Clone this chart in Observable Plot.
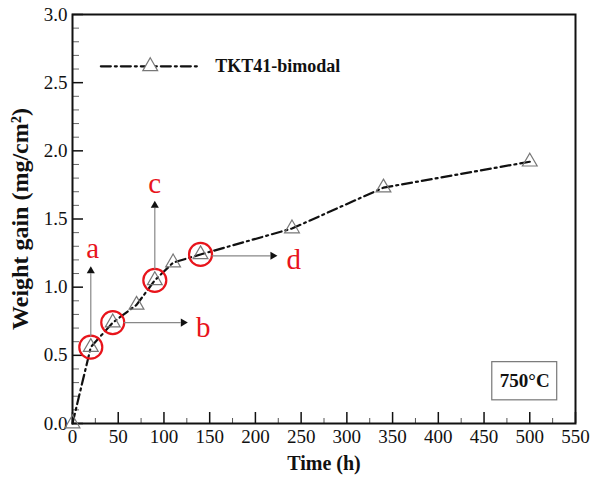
<!DOCTYPE html>
<html>
<head>
<meta charset="utf-8">
<script src="https://cdn.jsdelivr.net/npm/d3@7"></script>
<script src="https://cdn.jsdelivr.net/npm/@observablehq/plot@0.6"></script>
<style>
  html, body { margin: 0; padding: 0; background: #fff; }
  #chart { width: 591px; height: 482px; }
</style>
</head>
<body>
<div id="chart"></div>
<script>
// ---- data ----
const times = [0, 20, 44, 70, 90, 110, 140, 240, 340, 500];
const gains = [0, 0.56, 0.74, 0.87, 1.05, 1.18, 1.24, 1.43, 1.73, 1.92];
const seriesName = "TKT41-bimodal";
const tempLabel = "750°C";

// circled observation points and their annotations
const annLabels = ["a", "b", "c", "d"];
const annIndex = [1, 2, 4, 6];
const annArrowX = [20, 121, 90, 219];
const annArrowY = [1.12, 0.74, 1.60, 1.23];
const annLabelX = [22, 143, 90, 242];
const annLabelY = [1.28, 0.70, 1.76, 1.20];

// axes
const xMajor = d3.range(0, 551, 50);
const xMinor = d3.range(25, 550, 50);
const yMajor = [0, 0.5, 1.0, 1.5, 2.0, 2.5, 3.0];
const yMinor = d3.range(1, 30).map(d => d / 10).filter(d => Math.round(d * 10) % 5 !== 0);

// legend and temperature box (data units)
const legendLineX = [31, 140];
const legendY = 2.62;
const legendSymbolX = 85;
const legendTextX = 156;
const boxX = [459, 530];
const boxY = [0.17, 0.45];

// ---- build tables ----
const data = times.map((t, i) => ({t, g: gains[i]}));
const ann = annLabels.map((l, i) => ({
  label: l,
  x1: times[annIndex[i]],
  y1: annIndex[i] === 6 ? annArrowY[i] : gains[annIndex[i]],
  x2: annArrowX[i],
  y2: annArrowY[i],
  lx: annLabelX[i],
  ly: annLabelY[i],
  rot: annArrowX[i] === times[annIndex[i]] ? 0 : 90
}));
const circled = annIndex.map(i => data[i]);
const legendLine = legendLineX.map(x => ({x, y: legendY}));

const serif = "'Liberation Serif', 'Times New Roman', serif";
const dash = "10,4,2,4";

const chart = Plot.plot({
  width: 591,
  height: 482,
  marginTop: 14,
  marginRight: 16,
  marginBottom: 59,
  marginLeft: 72,
  style: {fontFamily: serif, fontSize: "19px", color: "#111", background: "#fff"},
  x: {domain: [0, 550]},
  y: {domain: [0, 3]},
  marks: [
    Plot.axisX({ticks: xMajor, tickSize: 0, tickPadding: 6, fontSize: 19, label: null, tickFormat: d3.format("d")}),
    Plot.axisY({ticks: yMajor, tickSize: 0, tickPadding: 5, fontSize: 19, label: null, tickFormat: d3.format(".1f")}),
    // inward ticks
    Plot.ruleX(xMajor, {x: d => d, y1: 0, y2: 0, insetTop: -11, stroke: "#111", strokeWidth: 1.5}),
    Plot.ruleX(xMinor, {x: d => d, y1: 0, y2: 0, insetTop: -5, stroke: "#555", strokeWidth: 1}),
    Plot.ruleY(yMajor, {y: d => d, x1: 0, x2: 0, insetRight: -11, stroke: "#111", strokeWidth: 1.5}),
    Plot.ruleY(yMinor, {y: d => d, x1: 0, x2: 0, insetRight: -7, stroke: "#666", strokeWidth: 1}),
    Plot.frame({stroke: "#111", strokeWidth: 2}),
    // series
    Plot.line(data, {x: "t", y: "g", stroke: "#111", strokeWidth: 2.2, strokeDasharray: dash}),
    Plot.dot(data, {x: "t", y: "g", symbol: "triangle", r: 5.5, stroke: "#777", strokeWidth: 1.2, fill: "none"}),
    // annotations
    Plot.dot(circled, {x: "t", y: "g", r: 11.5, stroke: "#e8141b", strokeWidth: 2.2, fill: "none"}),
    Plot.arrow(ann, {x1: "x1", y1: "y1", x2: "x2", y2: "y2", headLength: 0, insetStart: 11.5, insetEnd: 3, stroke: "#888", strokeWidth: 1.2}),
    Plot.dot(ann, {x: "x2", y: "y2", symbol: "triangle", r: 3, rotate: "rot", fill: "#111", stroke: "none"}),
    Plot.text(ann, {x: "lx", y: "ly", text: "label", fill: "#e8141b", fontSize: 29}),
    // legend
    Plot.line(legendLine, {x: "x", y: "y", stroke: "#111", strokeWidth: 2.2, strokeDasharray: dash}),
    Plot.dot([legendSymbolX], {x: d => d, y: legendY, symbol: "triangle", r: 5.5, stroke: "#777", strokeWidth: 1.2, fill: "#fff"}),
    Plot.text([seriesName], {x: legendTextX, y: legendY, text: d => d, textAnchor: "start", fontWeight: "bold", fontSize: 18, fill: "#111"}),
    // temperature box
    Plot.rect([tempLabel], {x1: boxX[0], x2: boxX[1], y1: boxY[0], y2: boxY[1], fill: "#fff", stroke: "#777", strokeWidth: 1.2}),
    Plot.text([tempLabel], {x: (boxX[0] + boxX[1]) / 2, y: (boxY[0] + boxY[1]) / 2, text: d => d, fontWeight: "bold", fontSize: 19, fill: "#111"}),
    // axis titles
    Plot.text(["Time (h)"], {frameAnchor: "bottom", dy: 46, text: d => d, fontWeight: "bold", fontSize: 20, fill: "#111"}),
    Plot.text(["Weight gain (mg/cm²)"], {frameAnchor: "left", dx: -52, rotate: -90, textAnchor: "middle", text: d => d, fontWeight: "bold", fontSize: 24, fill: "#111"})
  ]
});
document.getElementById("chart").appendChild(chart);
</script>
</body>
</html>
